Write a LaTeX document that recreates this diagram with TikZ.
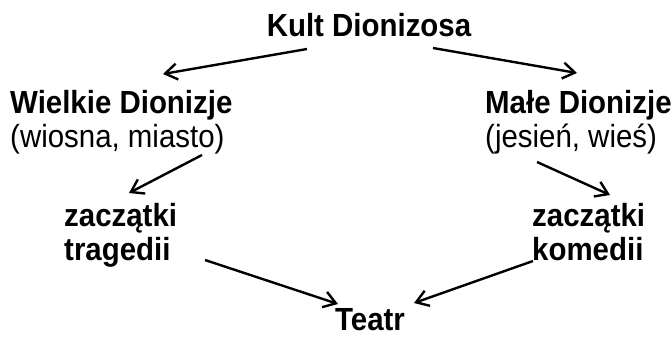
\documentclass[tikz,border=0pt]{standalone}
\usepackage{fontspec}
\setmainfont[FakeStretch=0.92]{Liberation Sans}
\usetikzlibrary{arrows.meta}
\begin{document}
\begin{tikzpicture}[x=1pt, y=-1pt,
        txt/.style={inner sep=0pt, align=left, font=\fontsize{32}{33.5}\selectfont},
        head/.style={txt, font=\fontsize{32}{33.5}\selectfont\bfseries},
        arr/.style={line width=2.4pt, -{Straight Barb[length=12pt, width=16pt, line width=2.4pt]}}]
    \useasboundingbox (0, 0) rectangle (671, 337);
    %%draw the names
    \node[head, anchor=base] (kult) at (369, 37){Kult Dionizosa};
    \node[txt, anchor=base west] (wielkie) at (10, 147){\textbf{Wielkie Dionizje}\\(wiosna, miasto)};
    \node[txt, anchor=base west] (male) at (485, 147){\textbf{Małe Dionizje}\\(jesień, wieś)};
    \node[head, anchor=base west] (tragedia) at (64, 260){zaczątki\\tragedii};
    \node[head, anchor=base west] (komedia) at (532, 260){zaczątki\\komedii};
    \node[head, anchor=base] (teatr) at (370, 330){Teatr};
    %%draw the arrows
    \draw[arr] ([shift={(-62, 12)}]kult.base) to ([shift={(153, -73)}]wielkie.base west);
    \draw[arr] ([shift={(64, 11)}]kult.base) to ([shift={(92, -74)}]male.base west);
    \draw[arr] ([shift={(192, 8)}]wielkie.base west) to ([shift={(65, -67)}]tragedia.base west);
    \draw[arr] ([shift={(52, 15)}]male.base west) to ([shift={(78, -65)}]komedia.base west);
    \draw[arr] ([shift={(141, 0)}]tragedia.base west) to ([shift={(-32, -26)}]teatr.base);
    \draw[arr] ([shift={(1, 1)}]komedia.base west) to ([shift={(44, -27)}]teatr.base);
\end{tikzpicture}
\end{document}
